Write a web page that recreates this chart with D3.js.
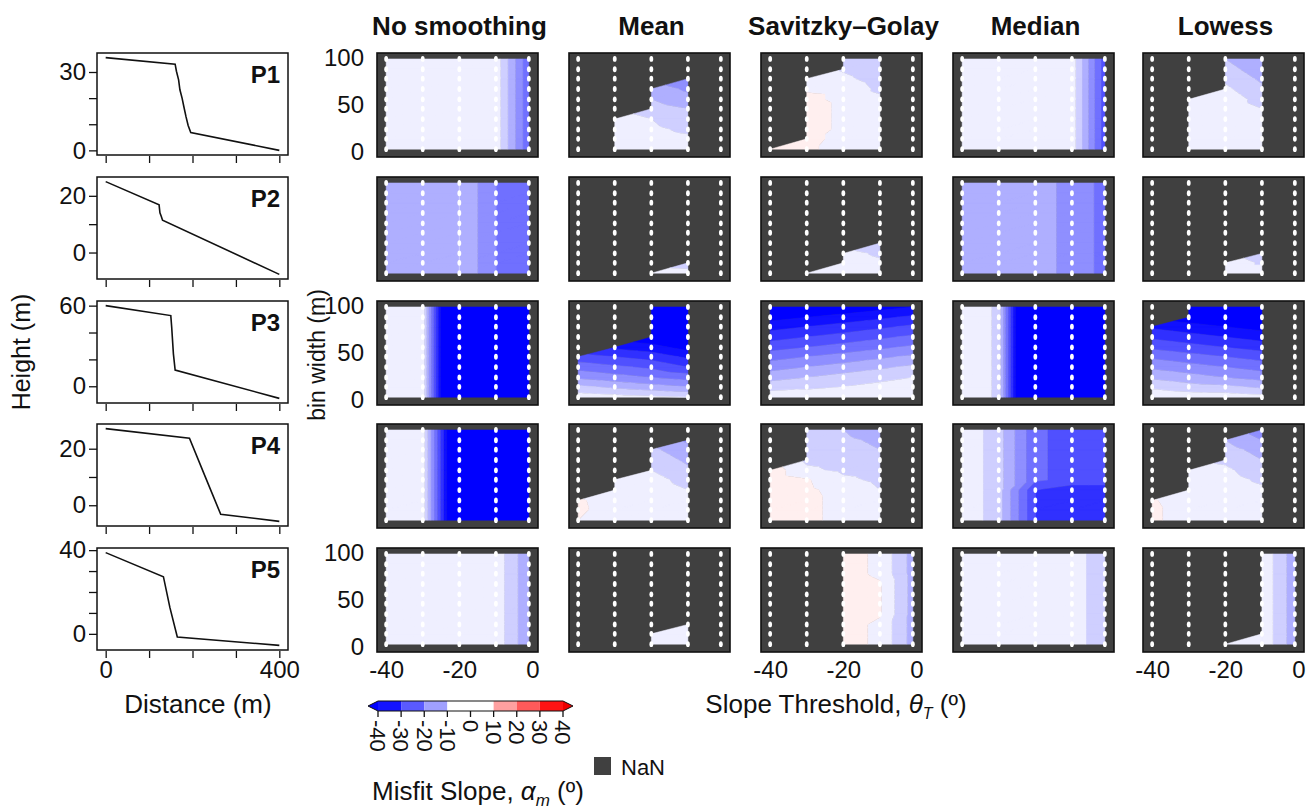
<!DOCTYPE html>
<html lang="en">
<head>
<meta charset="utf-8">
<title>Misfit slope by smoothing method</title>
<script src="https://d3js.org/d3.v7.min.js"></script>
<style>
  body { margin: 0; background: #fff; }
  svg text { font-family: "Liberation Sans", Arial, Helvetica, sans-serif; fill: #111; }
</style>
</head>
<body>
<svg id="chart" width="1314" height="810"></svg>
<script>
const N = NaN;

const methods = ["No smoothing", "Mean", "Savitzky\u2013Golay", "Median", "Lowess"];
const profileNames = ["P1", "P2", "P3", "P4", "P5"];

// grid axes of every misfit panel
const thresholds = [-40, -30, -20, -10, -1];
const binWidths = [99, 88, 78, 67, 56, 46, 35, 24, 14, 3];   // top row first

// profiles (distance m, height m)
const p1Dist = [0, 160, 163, 168, 171, 176, 180, 185, 190, 196, 400];
const p1Height = [35.5, 33, 30.3, 27, 23.2, 20, 16.8, 12.9, 9.5, 6.8, 0];
const p2Dist = [0, 123, 125, 128, 131, 400];
const p2Height = [25, 16.8, 14, 12.8, 11.4, -7.7];
const p3Dist = [0, 150, 152, 156, 160, 400];
const p3Height = [60, 52.6, 44.3, 24.1, 12.1, -9];
const p4Dist = [0, 193, 229, 265, 400];
const p4Height = [27.1, 23.7, 10.2, -3.2, -5.7];
const p5Dist = [0, 133, 148, 165, 400];
const p5Height = [38.8, 27.3, 12.5, -1.5, -5.5];

const p1Ticks = [0, 30], p1Minor = [10, 20];
const p2Ticks = [0, 20], p2Minor = [10];
const p3Ticks = [0, 60], p3Minor = [20, 40];
const p4Ticks = [0, 20], p4Minor = [10];
const p5Ticks = [0, 40], p5Minor = [10, 20, 30];

// misfit slope (deg), rows = binWidths, cols = thresholds
const p1None = [
  [-1, -1, -1, -2, -24], [-1, -1, -1, -2, -24], [-1, -1, -1, -2, -24], [-1, -1, -1, -2, -24], [-1, -1, -1, -2, -24],
  [-1, -1, -1, -2, -24], [-1, -1, -1, -2, -24], [-1, -1, -1, -2, -24], [-1, -1, -1, -2, -24], [-1, -1, -1, -2, -24]];
const p1Mean = [
  [N, N, N, N, N], [N, N, N, N, N], [N, N, N, -20, N], [N, N, -12, -16, N], [N, N, -10, -13, N],
  [N, N, -8, -10, N], [N, -2, -5, -8, N], [N, -2, -4, -6, N], [N, -2, -3, -4, N], [N, -2, -2, -2, N]];
const p1SG = [
  [N, N, -8, -9, N], [N, N, -5.5, -8, N], [N, -2, -4, -7, N], [N, -1, -2, -6, N], [N, 2, -2, -4, N],
  [N, 4, -2, -2, N], [N, 4, -2, -2, N], [N, 4, -2, -2, N], [N, 2, -2, -2, N], [1, 1, -2, -2, N]];
const p1Median = [
  [-1, -1, -1, -2, -28], [-1, -1, -1, -2, -28], [-1, -1, -1, -2, -28], [-1, -1, -1, -2, -28], [-1, -1, -1, -2, -28],
  [-1, -1, -1, -2, -28], [-1, -1, -1, -2, -28], [-1, -1, -1, -2, -28], [-1, -1, -1, -2, -28], [-1, -1, -1, -2, -28]];
const p1Lowess = [
  [N, N, -10, -15, N], [N, N, -8, -13, N], [N, N, -6, -11, N], [N, N, -4, -9, N], [N, -1, -2, -7, N],
  [N, -1, -2, -5, N], [N, -1, -1, -3, N], [N, -1, -1, -2, N], [N, -1, -1, -2, N], [N, -1, -1, -2, N]];

const p2None = [
  [-13, -12, -10, -20, -22], [-13, -12, -10, -20, -22], [-13, -12, -10, -20, -22], [-13, -12, -10, -20, -22], [-13, -12, -10, -20, -22],
  [-13, -12, -10, -20, -22], [-13, -12, -10, -20, -22], [-13, -12, -10, -20, -22], [-13, -12, -10, -20, -22], [-13, -12, -10, -20, -22]];
const p2Mean = [
  [N, N, N, N, N], [N, N, N, N, N], [N, N, N, N, N], [N, N, N, N, N], [N, N, N, N, N],
  [N, N, N, N, N], [N, N, N, N, N], [N, N, N, N, N], [N, N, N, -8, N], [N, N, -2, -3, N]];
const p2SG = [
  [N, N, N, N, N], [N, N, N, N, N], [N, N, N, N, N], [N, N, N, N, N], [N, N, N, N, N],
  [N, N, N, N, N], [N, N, N, -10, N], [N, N, -3, -6, N], [N, N, -2, -4, N], [N, -2, -2, -2, N]];
const p2Median = [
  [-13, -12, -11, -18, -21], [-13, -12, -11, -18, -21], [-13, -12, -11, -18, -21], [-13, -12, -11, -18, -21], [-13, -12, -11, -18, -21],
  [-13, -12, -11, -18, -21], [-13, -12, -11, -18, -21], [-13, -12, -11, -18, -21], [-13, -12, -11, -18, -21], [-13, -12, -11, -18, -21]];
const p2Lowess = [
  [N, N, N, N, N], [N, N, N, N, N], [N, N, N, N, N], [N, N, N, N, N], [N, N, N, N, N],
  [N, N, N, N, N], [N, N, N, N, N], [N, N, N, -9, N], [N, N, -1, -6, N], [N, N, -1, -1, N]];

const p3None = [
  [-1, -2, -80, -80, -80], [-1, -2, -80, -80, -80], [-1, -2, -80, -80, -80], [-1, -2, -80, -80, -80], [-1, -2, -80, -80, -80],
  [-1, -2, -80, -80, -80], [-1, -2, -80, -80, -80], [-1, -2, -80, -80, -80], [-1, -2, -80, -80, -80], [-1, -2, -80, -80, -80]];
const p3Mean = [
  [N, N, -62, -66, N], [N, N, -56, -60, N], [N, N, -50, -54, N], [N, N, -44, -48, N], [N, -36, -38, -42, N],
  [-28, -30, -32, -36, N], [-22, -24, -26, -30, N], [-16, -18, -20, -22, N], [-9, -11, -13, -15, N], [-2, -3, -4, -5, N]];
const p3SG = [
  [-48, -46, -44, -42, -40], [-42, -40, -38, -36, -34], [-37, -35, -33, -31, -29], [-32, -30, -28, -26, -24], [-27, -25, -23, -21, -19],
  [-22, -20, -18, -16, -14], [-17, -15, -13, -11, -9], [-12, -10, -8, -6, -5], [-7, -6, -5, -4, -3], [-2, -2, -2, -2, -2]];
const p3Median = [
  [-1, -6, -80, -80, -80], [-1, -6, -80, -80, -80], [-1, -6, -80, -80, -80], [-1, -6, -80, -80, -80], [-1, -6, -80, -80, -80],
  [-1, -6, -80, -80, -80], [-1, -6, -80, -80, -80], [-1, -6, -80, -80, -80], [-1, -6, -80, -80, -80], [-1, -6, -80, -80, -80]];
const p3Lowess = [
  [N, -48, -50, -52, N], [N, -43, -45, -47, N], [-36, -38, -40, -42, N], [-31, -33, -35, -37, N], [-26, -28, -30, -32, N],
  [-21, -23, -25, -27, N], [-16, -18, -20, -22, N], [-11, -13, -15, -17, N], [-6, -8, -9, -11, N], [-1, -2, -2, -3, N]];

const p4None = [
  [-1, -2, -60, -60, -60], [-1, -2, -60, -60, -60], [-1, -2, -60, -60, -60], [-1, -2, -60, -60, -60], [-1, -2, -60, -60, -60],
  [-1, -2, -60, -60, -60], [-1, -2, -60, -60, -60], [-1, -2, -60, -60, -60], [-1, -2, -60, -60, -60], [-1, -2, -60, -60, -60]];
const p4Mean = [
  [N, N, N, N, N], [N, N, N, -16, N], [N, N, -9, -13, N], [N, N, -7, -11, N], [N, N, -5, -9, N],
  [N, -2, -3, -7, N], [N, -2, -2, -5, N], [0.3, -1, -2, -3, N], [0.4, -1, -1, -2, N], [0, -1, -1, -2, N]];
const p4SG = [
  [N, -9, -10, -13, N], [N, -8, -9, -11, N], [N, -7, -8, -10, N], [N, -6, -7, -8, N], [3, -4, -6, -7, N],
  [3, 0.5, -4, -6, N], [3, 1, -2, -5, N], [3, 1.5, -2, -4, N], [3, 1.5, -2, -3, N], [3, 1.5, -2, -2, N]];
const p4Median = [
  [-1, -8, -24, -27, -27], [-1, -8, -24, -27, -27], [-1, -8, -24, -27, -27], [-1, -8, -24, -27, -27], [-1, -8, -24, -27, -27],
  [-1, -8, -24, -27, -27], [-1, -8, -30, -33, -33], [-1, -8, -30, -33, -33], [-1, -8, -30, -33, -33], [-1, -8, -30, -33, -33]];
const p4Lowess = [
  [N, N, N, -18, N], [N, N, -10, -15, N], [N, N, -8, -12, N], [N, N, -6, -10, N], [N, -3, -4, -8, N],
  [N, -2, -3, -6, N], [N, -2, -2, -4, N], [0.2, -1, -2, -3, N], [0.4, -1, -1, -2, N], [0.4, -1, -1, -2, N]];

const p5None = [
  [-1, -1, -1, -2, -14], [-1, -1, -1, -2, -14], [-1, -1, -1, -2, -14], [-1, -1, -1, -2, -14], [-1, -1, -1, -2, -14],
  [-1, -1, -1, -2, -14], [-1, -1, -1, -2, -14], [-1, -1, -1, -2, -14], [-1, -1, -1, -2, -14], [-1, -1, -1, -2, -14]];
const p5Mean = [
  [N, N, N, N, N], [N, N, N, N, N], [N, N, N, N, N], [N, N, N, N, N], [N, N, N, N, N],
  [N, N, N, N, N], [N, N, N, N, N], [N, N, N, -2, N], [N, N, -2, -2, N], [N, N, -2, -2, N]];
const p5SG = [
  [N, N, 2, -1, -12], [N, N, 2, -1, -12], [N, N, 2, -1, -12], [N, N, 3, 0.5, -12], [N, N, 3, 0.5, -12],
  [N, N, 3, 0.5, -12], [N, N, 3, 0.5, -12], [N, N, 2, -1, -12], [N, N, 2, -1, -12], [N, N, 2, -1, -12]];
const p5Median = [
  [-1, -1, -1, -2, -9], [-1, -1, -1, -2, -9], [-1, -1, -1, -2, -9], [-1, -1, -1, -2, -9], [-1, -1, -1, -2, -9],
  [-1, -1, -1, -2, -9], [-1, -1, -1, -2, -9], [-1, -1, -1, -2, -9], [-1, -1, -1, -2, -9], [-1, -1, -1, -2, -9]];
const p5Lowess = [
  [N, N, N, -1, -13], [N, N, N, -1, -13], [N, N, N, -1, -13], [N, N, N, -1, -13], [N, N, N, -1, -13],
  [N, N, N, -1, -13], [N, N, N, -1, -13], [N, N, N, -1, -13], [N, N, N, -1, -13], [N, N, -1, -1, -13]];

// colorbar
const cbBounds = [-40, -30, -20, -10, 10, 20, 30, 40];
const cbColors = ["#1414ff", "#5a5aff", "#a0a0ff", "#ffffff", "#ffa0a0", "#ff5a5a", "#ff1414"];
const cbTicks = [-40, -30, -20, -10, 0, 10, 20, 30, 40];

// ---------------------------------------------------------------
const profiles = [
  {dist: p1Dist, h: p1Height, ticks: p1Ticks, minor: p1Minor},
  {dist: p2Dist, h: p2Height, ticks: p2Ticks, minor: p2Minor},
  {dist: p3Dist, h: p3Height, ticks: p3Ticks, minor: p3Minor},
  {dist: p4Dist, h: p4Height, ticks: p4Ticks, minor: p4Minor},
  {dist: p5Dist, h: p5Height, ticks: p5Ticks, minor: p5Minor}
];
const grids = [
  [p1None, p1Mean, p1SG, p1Median, p1Lowess],
  [p2None, p2Mean, p2SG, p2Median, p2Lowess],
  [p3None, p3Mean, p3SG, p3Median, p3Lowess],
  [p4None, p4Mean, p4SG, p4Median, p4Lowess],
  [p5None, p5Mean, p5SG, p5Median, p5Lowess]
];

const svg = d3.select("#chart");
const rowTop = [53, 177, 301, 424, 548];
const profX = 97, profW = 191, profH = 102;
const heatX = [377, 569, 761, 953, 1143], heatW = 161, heatH = 104;
const nanColor = "#404040";
const tickFont = 24;

// matplotlib "bwr"
function bwr(t) {
  t = Math.max(0, Math.min(1, t));
  const c = t < 0.5 ? [2 * t, 2 * t, 1] : [1, 2 * (1 - t), 2 * (1 - t)];
  return d3.rgb(c[0] * 255, c[1] * 255, c[2] * 255).formatHex();
}
const levels = d3.range(-40, 41, 5);
const bands = [[-Infinity, -40]].concat(d3.pairs(levels), [[40, Infinity]]);
function bandColor(b) {
  const mid = isFinite(b[0]) && isFinite(b[1]) ? (b[0] + b[1]) / 2 : (isFinite(b[0]) ? 41 : -41);
  return bwr((Math.max(-40, Math.min(40, mid)) + 40) / 80);
}

// keep the part of a polygon where f >= 0 (points are [x, y, v])
function clip(poly, f) {
  const out = [];
  for (let i = 0; i < poly.length; i++) {
    const a = poly[i], b = poly[(i + 1) % poly.length];
    const fa = f(a), fb = f(b);
    if (fa >= 0) out.push(a);
    if ((fa >= 0) !== (fb >= 0)) {
      const t = fa / (fa - fb);
      out.push([a[0] + t * (b[0] - a[0]), a[1] + t * (b[1] - a[1]), a[2] + t * (b[2] - a[2])]);
    }
  }
  return out;
}

function styleAxis(a) {
  a.select(".domain").remove();
  a.selectAll("line").attr("stroke", "#111").attr("stroke-width", 1.3);
  a.selectAll("text").attr("font-size", tickFont).attr("fill", "#111");
}

// ---------------- profiles ----------------
profiles.forEach((p, i) => {
  const g = svg.append("g").attr("transform", `translate(${profX},${rowTop[i]})`);
  const x = d3.scaleLinear().domain([-20, 420]).range([0, profW]);
  const ext = d3.extent(p.h), pad = (ext[1] - ext[0]) * 0.05;
  const y = d3.scaleLinear().domain([ext[0] - pad, ext[1] + pad]).range([profH, 0]);

  g.append("rect").attr("width", profW).attr("height", profH)
    .attr("fill", "none").attr("stroke", "#111").attr("stroke-width", 1.5);

  const line = d3.line().x(d => x(d[0])).y(d => y(d[1]));
  g.append("path").datum(d3.zip(p.dist, p.h)).attr("d", line)
    .attr("fill", "none").attr("stroke", "#111").attr("stroke-width", 1.6);

  const yAxis = d3.axisLeft(y).tickValues(p.ticks.concat(p.minor).sort(d3.ascending))
    .tickSize(8).tickPadding(3).tickFormat(d => p.ticks.includes(d) ? String(d) : "");
  g.append("g").call(yAxis).call(styleAxis);
  const xAxis = d3.axisBottom(x).tickValues([0, 100, 200, 300, 400]).tickSize(7).tickPadding(3)
    .tickFormat(d => i === 4 && (d === 0 || d === 400) ? String(d) : "");
  g.append("g").attr("transform", `translate(0,${profH + 1})`).call(xAxis).call(styleAxis);

  g.append("text").attr("x", profW - 8).attr("y", 30).attr("text-anchor", "end")
    .attr("font-size", 24).attr("font-weight", "bold").text(profileNames[i]);
});

svg.append("text").attr("transform", "translate(30,352) rotate(-90)").attr("text-anchor", "middle")
  .attr("font-size", 25).text("Height (m)");
svg.append("text").attr("x", 198).attr("y", 713).attr("text-anchor", "middle")
  .attr("font-size", 26).text("Distance (m)");

// ---------------- misfit panels ----------------
const hx = d3.scaleLinear().domain([-42.5, 1.5]).range([0, heatW]);
const hy = d3.scaleLinear().domain([-5.3, 105.3]).range([heatH, 0]);

methods.forEach((m, j) => {
  svg.append("text").attr("x", heatX[j] + heatW / 2 + 2).attr("y", 35).attr("text-anchor", "middle")
    .attr("font-size", 26).attr("font-weight", "bold").text(m);
});

grids.forEach((row, i) => {
  row.forEach((grid, j) => {
    const g = svg.append("g").attr("transform", `translate(${heatX[j]},${rowTop[i]})`);
    g.append("rect").attr("width", heatW).attr("height", heatH)
      .attr("fill", nanColor).attr("stroke", "#111").attr("stroke-width", 1.6);

    // filled contours: triangles split along the lower-left / upper-right diagonal
    const byBand = bands.map(() => []);
    const node = (r, c) => [hx(thresholds[c]), hy(binWidths[r]), grid[r][c]];
    for (let r = 0; r < binWidths.length - 1; r++) {
      for (let c = 0; c < thresholds.length - 1; c++) {
        const tl = node(r, c), tr = node(r, c + 1), bl = node(r + 1, c), br = node(r + 1, c + 1);
        [[bl, br, tr], [bl, tr, tl]].forEach(tri => {
          if (tri.some(p => isNaN(p[2]))) return;
          bands.forEach((b, k) => {
            let poly = clip(tri, p => p[2] - b[0]);
            if (isFinite(b[1])) poly = clip(poly, p => b[1] - p[2]);
            if (poly.length >= 3) byBand[k].push(poly);
          });
        });
      }
    }
    const bandPaths = bands.map((b, k) => ({color: bandColor(b), polys: byBand[k]})).filter(d => d.polys.length);
    g.append("g").selectAll("path").data(bandPaths).join("path")
      .attr("d", d => d.polys.map(poly => "M" + poly.map(p => p[0].toFixed(2) + "," + p[1].toFixed(2)).join("L") + "Z").join(""))
      .attr("fill", d => d.color).attr("stroke", d => d.color)
      .attr("stroke-width", 0.5).attr("stroke-linejoin", "round");

    const dots = d3.cross(thresholds, binWidths);
    g.append("g").selectAll("ellipse").data(dots).join("ellipse")
      .attr("cx", d => hx(d[0])).attr("cy", d => hy(d[1]))
      .attr("rx", 1.9).attr("ry", 2.9).attr("fill", "#fff");

    if (j === 0 && i % 2 === 0) {
      g.append("g").call(d3.axisLeft(hy).tickValues([0, 50, 100]).tickSize(0).tickPadding(13)
        .tickFormat(d => String(d))).call(styleAxis);
    }
    if (i === 4 && j % 2 === 0) {
      g.append("g").attr("transform", `translate(0,${heatH})`)
        .call(d3.axisBottom(hx).tickValues([-40, -20, 0]).tickSize(0).tickPadding(9)
        .tickFormat(d => String(d))).call(styleAxis);
    }
  });
});

svg.append("text").attr("transform", "translate(325,355) rotate(-90)").attr("text-anchor", "middle")
  .attr("font-size", 23).text("bin width (m)");

const st = svg.append("text").attr("x", 836).attr("y", 713).attr("text-anchor", "middle").attr("font-size", 26);
st.append("tspan").text("Slope Threshold, ");
st.append("tspan").attr("font-style", "italic").text("\u03b8");
st.append("tspan").attr("font-style", "italic").attr("font-size", 16).attr("dy", 6).text("T");
st.append("tspan").attr("dy", -6).text(" (\u00ba)");

// ---------------- colorbar ----------------
const cb = d3.scaleLinear().domain([-40, 40]).range([378, 563]);
const cbY = 701, cbH = 10;
const cbg = svg.append("g");
cbg.selectAll("rect").data(d3.pairs(cbBounds)).join("rect")
  .attr("x", d => cb(d[0])).attr("y", cbY).attr("width", d => cb(d[1]) - cb(d[0])).attr("height", cbH)
  .attr("fill", (d, k) => cbColors[k]);
cbg.append("path").attr("d", `M${cb(-40)},${cbY}L${cb(-40) - 10},${cbY + cbH / 2}L${cb(-40)},${cbY + cbH}Z`).attr("fill", "#0000ff");
cbg.append("path").attr("d", `M${cb(40)},${cbY}L${cb(40) + 10},${cbY + cbH / 2}L${cb(40)},${cbY + cbH}Z`).attr("fill", "#ee0000");
cbg.append("path")
  .attr("d", `M${cb(-40)},${cbY}L${cb(-40) - 10},${cbY + cbH / 2}L${cb(-40)},${cbY + cbH}L${cb(40)},${cbY + cbH}L${cb(40) + 10},${cbY + cbH / 2}L${cb(40)},${cbY}Z`)
  .attr("fill", "none").attr("stroke", "#111").attr("stroke-width", 1);
cbg.selectAll("line.tk").data(cbTicks).join("line").attr("class", "tk")
  .attr("x1", d => cb(d)).attr("x2", d => cb(d)).attr("y1", cbY + cbH).attr("y2", cbY + cbH + 6)
  .attr("stroke", "#111").attr("stroke-width", 1.3);
cbg.selectAll("text").data(cbTicks).join("text")
  .attr("transform", d => `translate(${cb(d)},${cbY + cbH + 9}) rotate(90)`)
  .attr("dy", "0.35em").attr("font-size", 22).text(d => String(d));

svg.append("rect").attr("x", 594).attr("y", 757).attr("width", 17).attr("height", 18).attr("fill", nanColor);
svg.append("text").attr("x", 621).attr("y", 775).attr("font-size", 22).text("NaN");

const ml = svg.append("text").attr("x", 372).attr("y", 800).attr("font-size", 26);
ml.append("tspan").text("Misfit Slope, ");
ml.append("tspan").attr("font-style", "italic").text("\u03b1");
ml.append("tspan").attr("font-style", "italic").attr("font-size", 17).attr("dy", 6).text("m");
ml.append("tspan").attr("dy", -6).text(" (\u00ba)");
</script>
</body>
</html>
